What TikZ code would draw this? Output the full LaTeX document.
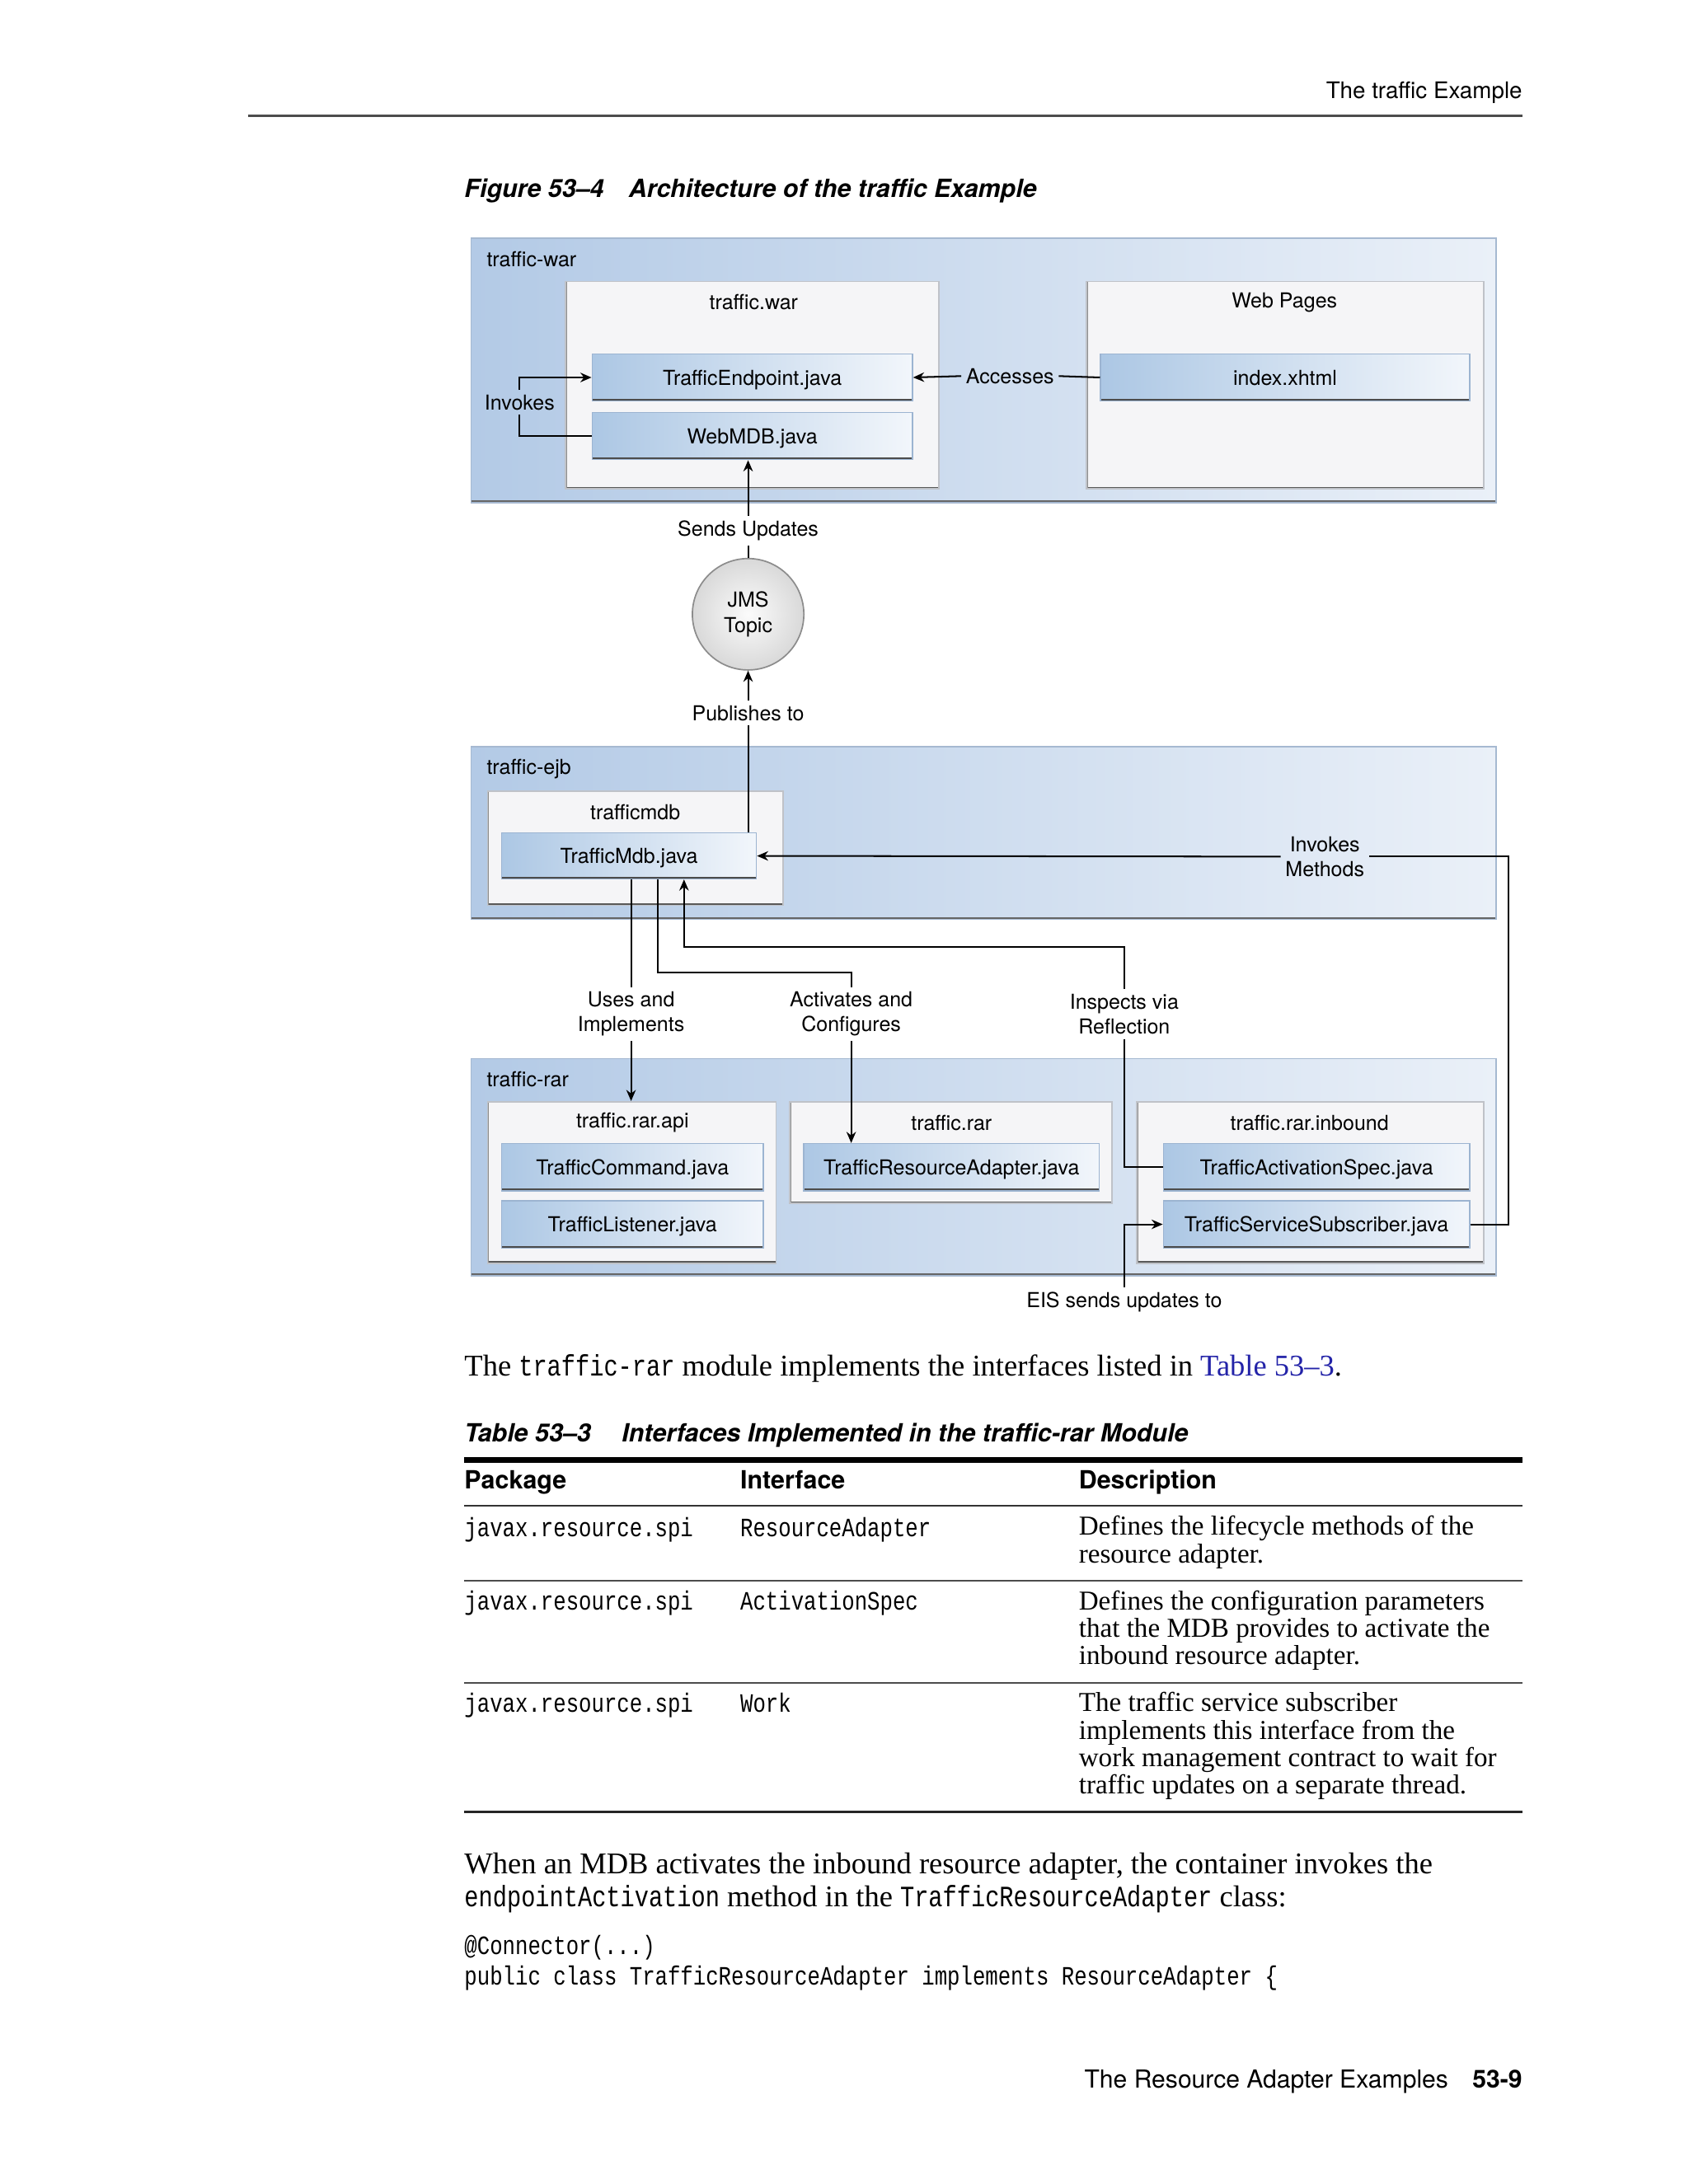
\documentclass[tikz,border=0pt]{standalone}
\usepackage{fontspec}
\setmainfont{Liberation Serif}
\setsansfont{TeX Gyre Heros}
\newfontfamily\codefont[FakeStretch=0.8]{Liberation Mono}
\usetikzlibrary{arrows.meta,fit}
\definecolor{pkgleft}{HTML}{B3CAE6}
\definecolor{pkgright}{HTML}{EAF0F8}
\definecolor{pkgedge}{HTML}{A6B9D1}
\definecolor{modfill}{HTML}{F5F5F7}
\definecolor{modedge}{HTML}{BFC2C8}
\definecolor{srcleft}{HTML}{ACC7E4}
\definecolor{srcmid}{HTML}{C0D5EC}
\definecolor{srcright}{HTML}{F2F6FB}
\definecolor{srcedge}{HTML}{9CB4D1}
\definecolor{linkblue}{HTML}{2323A8}
\newcommand\inlinecode[1]{{\codefont\fontsize{10.6}{12}\selectfont #1}}
\newcommand\tablecode[1]{{\codefont\fontsize{9.5}{10}\selectfont #1}}

\begin{document}
\begin{tikzpicture}[x=0.5pt,y=-0.5pt,
  >={Stealth[length=4pt,width=3.4pt]},
  lbl/.style={font=\sffamily\fontsize{7.4}{9}\selectfont, inner sep=1.5pt, align=center},
  ttl/.style={font=\sffamily\fontsize{7.4}{9}\selectfont, inner sep=0pt},
  pkg/.style={fit={#1}, inner sep=0pt, draw=pkgedge, line width=0.4pt, left color=pkgleft, right color=pkgright,
    path picture={\draw[line width=1.6pt,black!60] (path picture bounding box.south west) -- (path picture bounding box.south east);}},
  mod/.style={fit={#1}, inner sep=0pt, draw=modedge, line width=0.5pt, fill=modfill,
    path picture={\draw[line width=1.6pt,black!65] (path picture bounding box.south west) -- (path picture bounding box.south east);
                  \draw[line width=1pt,black!45] (path picture bounding box.south west) -- (path picture bounding box.north west);}},
  src/.style={minimum width=#1, minimum height=17pt, inner sep=0pt, text height=5.4pt, text depth=0pt,
    draw=srcedge, line width=0.4pt, left color=srcleft, middle color=srcmid, right color=srcright,
    font=\sffamily\fontsize{7.4}{9}\selectfont,
    path picture={\draw[line width=1.6pt,black!70] (path picture bounding box.south west) -- (path picture bounding box.south east);}},
  topic/.style={circle, minimum size=40pt, inner sep=0pt, draw=black!45, line width=0.5pt, inner color=gray!3, outer color=gray!30,
    font=\sffamily\fontsize{7.4}{9}\selectfont, align=center},
  body/.style={anchor=base west, inner sep=0pt, font=\fontsize{10.8}{12}\selectfont},
  cell/.style={anchor=base west, inner sep=0pt, align=left, font=\fontsize{9.8}{9.85}\selectfont},
  heading/.style={anchor=base west, inner sep=0pt, font=\sffamily\bfseries\itshape\fontsize{9}{10}\selectfont},
  colhead/.style={anchor=base west, inner sep=0pt, font=\sffamily\bfseries\fontsize{9}{10}\selectfont},
  folio/.style={anchor=base east, inner sep=0pt, font=\sffamily\fontsize{8.9}{10}\selectfont}]
\useasboundingbox (0,0) rectangle (1212,1568);
\fill[white] (0,0) rectangle (1212,1568);

%running head
\node[folio, font=\sffamily\fontsize{8.2}{10}\selectfont] (head) at (1093,71) {The traffic Example};
\draw[black!70, line width=0.8pt] (178,83) -- (1093,83);
\node[heading] (fignum) at (333,142) {Figure 53–4};
\node[heading] (figtitle) at (451,142) {Architecture of the traffic Example};

%traffic-war
\node[pkg={(338,171) (1074,361)}] (war) {};
\node[ttl, anchor=west] (war-t) at (349,186) {traffic-war};
\node[mod={(406,202) (674,351)}] (twar) {};
\node[ttl] (twar-t) at (541,217) {traffic.war};
\node[src=115pt] (te) at (540,271) {TrafficEndpoint.java};
\node[src=115pt] (wm) at (540,313) {WebMDB.java};
\node[mod={(780,202) (1065,351)}] (web) {};
\node[ttl] (web-t) at (922,217) {Web Pages};
\node[src=132.5pt] (idx) at (922.5,271) {index.xhtml};

%JMS topic
\node[topic] (jms) at (537,441) {JMS\\Topic};

%traffic-ejb
\node[pkg={(338,536) (1074,660)}] (ejb) {};
\node[ttl, anchor=west] (ejb-t) at (349,552) {traffic-ejb};
\node[mod={(350,568) (562,650)}] (tmdb) {};
\node[ttl] (tmdb-t) at (456,583) {trafficmdb};
\node[src=91.5pt, minimum height=16.5pt] (mdb) at (451.5,614.5) {TrafficMdb.java};

%traffic-rar
\node[pkg={(338,760) (1074,916)}] (rar) {};
\node[ttl, anchor=west] (rar-t) at (349,775) {traffic-rar};
\node[mod={(350,791) (557,907)}] (api) {};
\node[ttl] (api-t) at (454,806) {traffic.rar.api};
\node[src=94pt] (cmd) at (454,838) {TrafficCommand.java};
\node[src=94pt] (lst) at (454,879) {TrafficListener.java};
\node[mod={(567,791) (798,864)}] (rpk) {};
\node[ttl] (rpk-t) at (683,806) {traffic.rar};
\node[src=106pt] (tra) at (683,838) {TrafficResourceAdapter.java};
\node[mod={(816,791) (1065,907)}] (inb) {};
\node[ttl] (inb-t) at (940,806) {traffic.rar.inbound};
\node[src=110pt] (tas) at (945,838) {TrafficActivationSpec.java};
\node[src=110pt] (tss) at (945,879) {TrafficServiceSubscriber.java};

%labels
\node[lbl] (inv) at (373,289) {Invokes};
\node[lbl] (acc) at (725,270) {Accesses};
\node[lbl] (snd) at (537,381) {Sends Updates};
\node[lbl] (pub) at (537,512) {Publishes to};
\node[lbl] (im) at (951,615) {Invokes\\Methods};
\node[lbl] (uai) at (453,728) {Uses and\\Implements};
\node[lbl] (aac) at (611,728) {Activates and\\Configures};
\node[lbl] (ivr) at (807,728) {Inspects via\\Reflection};
\node[lbl] (eis) at (807,935) {EIS sends updates to};
\coordinate (imc) at (1083,615);
\coordinate (acb) at (472,698);
\coordinate (ivb) at (491,680);

%connectors
\begin{scope}[line width=0.6pt]
\draw (wm.west) -| (inv.south);
\draw[->] (inv.north) |- (te.west);
\draw (idx.west) -- (acc.east);
\draw[->] (acc.west) -- (te.east);
\draw (jms.north) -- (snd.south);
\draw[->] (snd.north) -- (snd.north |- wm.south);
\draw (pub.south |- mdb.north) -- (pub.south);
\draw[->] (pub.north) -- (jms.south);
\draw (tss.east) -| (imc) -- (im.east);
\draw[->] (im.west) -- (mdb.east);
\draw (mdb.south -| uai) -- (uai.north);
\draw[->] (uai.south) -- (uai.south |- api.north);
\draw (mdb.south -| acb) -- (acb) -| (aac.north);
\draw[->] (aac.south) -- (aac.south |- tra.north);
\draw (tas.west) -| (ivr.south);
\draw[->] (ivr.north) |- (ivb) -- (ivb |- mdb.south);
\draw[->] (eis.north) |- (tss.west);
\end{scope}

%text and table
\node[body] (para1) at (333,988) {The \inlinecode{traffic-rar} module implements the interfaces listed in \textcolor{linkblue}{Table 53–3}.};
\node[heading] (tabnum) at (333,1035) {Table 53–3};
\node[heading] (tabtitle) at (446,1035) {Interfaces Implemented in the traffic-rar Module};
\draw[line width=2pt] (333,1048) -- (1093,1048);
\node[colhead] (hpkg) at (333,1069) {Package};
\node[colhead] (hif) at (531,1069) {Interface};
\node[colhead] (hdesc) at (774,1069) {Description};
\draw[black!80, line width=0.7pt] (333,1081) -- (1093,1081);
\node[cell] (pkg1) at (333,1103) {\tablecode{javax.resource.spi}};
\node[cell] (if1) at (531,1103) {\tablecode{ResourceAdapter}};
\node[cell] (d1) at (774,1122) {Defines the lifecycle methods of the\\resource adapter.};
\draw[black!70, line width=0.6pt] (333,1135) -- (1093,1135);
\node[cell] (pkg2) at (333,1156) {\tablecode{javax.resource.spi}};
\node[cell] (if2) at (531,1156) {\tablecode{ActivationSpec}};
\node[cell] (d2) at (774,1195) {Defines the configuration parameters\\that the MDB provides to activate the\\inbound resource adapter.};
\draw[black!70, line width=0.6pt] (333,1208) -- (1093,1208);
\node[cell] (pkg3) at (333,1229) {\tablecode{javax.resource.spi}};
\node[cell] (if3) at (531,1229) {\tablecode{Work}};
\node[cell] (d3) at (774,1288) {The traffic service subscriber\\implements this interface from the\\work management contract to wait for\\traffic updates on a separate thread.};
\draw[black!85, line width=1pt] (333,1301) -- (1093,1301);
\node[body] (para2) at (333,1345) {When an MDB activates the inbound resource adapter, the container invokes the};
\node[body] (para3) at (333,1369) {\inlinecode{endpointActivation} method in the \inlinecode{TrafficResourceAdapter} class:};
\node[body] (code1) at (333,1403) {\tablecode{@Connector(...)}};
\node[body] (code2) at (333,1425) {\tablecode{public class TrafficResourceAdapter implements ResourceAdapter \{}};

%footer
\node[folio, font=\sffamily\bfseries\fontsize{8.9}{10}\selectfont] (pgno) at (1093,1499) {53-9};
\node[folio] (foot) at (1040,1499) {The Resource Adapter Examples};
\end{tikzpicture}
\end{document}
